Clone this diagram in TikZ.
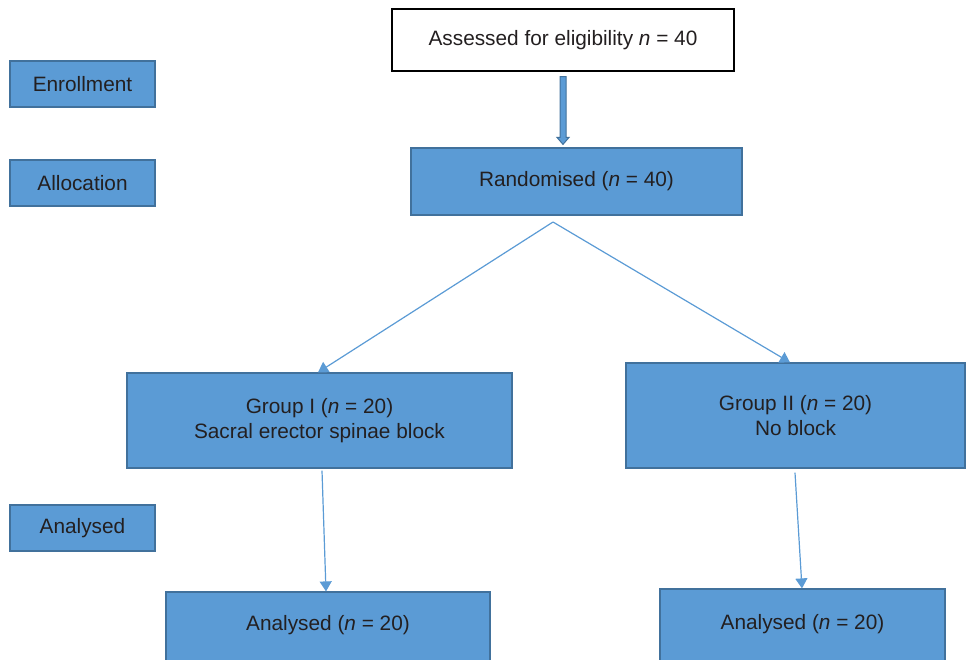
\documentclass[tikz,border=0pt]{standalone}
\usepackage{fontspec}
\setmainfont{Liberation Sans}
\usetikzlibrary{arrows.meta,calc}
\definecolor{boxfill}{HTML}{5B9BD5}
\definecolor{boxedge}{HTML}{41719C}
\definecolor{txt}{HTML}{231F20}
\tikzset{
  box/.style={draw=boxedge, fill=boxfill, line width=0.6pt, text=txt, align=center,
    inner sep=0pt, font=\fontsize{10.4}{12.5}\selectfont},
  whitebox/.style={draw=black, fill=white, line width=0.6pt, text=txt, align=center,
    inner sep=0pt, font=\fontsize{10.4}{12.5}\selectfont},
  conn/.style={draw=boxfill, line width=0.6pt, -{Triangle[width=6pt,length=5pt]}}
}
\begin{document}
\begin{tikzpicture}[x=0.5pt,y=-0.5pt]
\useasboundingbox (0,0) rectangle (966,660);
\clip (0,0) rectangle (966,660);
% stage labels
\node[box, minimum width=72.5pt, minimum height=23pt] (enroll) at (82.5,84) {Enrollment};
\node[box, minimum width=72.5pt, minimum height=23pt] (alloc) at (82.5,183) {Allocation};
\node[box, minimum width=72.5pt, minimum height=23pt] (anal) at (82.5,528) {Analysed};
% flow boxes
\node[whitebox, minimum width=171pt, minimum height=31pt] (assess) at (563,40) {Assessed for eligibility \textit{n} = 40};
\node[box, minimum width=165.5pt, minimum height=33.5pt] (rand) at (576.5,181.5) {Randomised (\textit{n} = 40)};
\node[box, minimum width=192.5pt, minimum height=47.5pt] (g1) at (319.5,420.5) {Group I (\textit{n} = 20)\\Sacral erector spinae block};
\node[box, minimum width=169.5pt, minimum height=52.5pt] (g2) at (795.5,415.5) {Group II (\textit{n} = 20)\\No block};
\node[box, minimum width=162pt, minimum height=36pt] (a1) at (328,628) {};
\node at (328,625) [text=txt, font=\fontsize{10.4}{12.5}\selectfont] (a1t) {Analysed (\textit{n} = 20)};
\node[box, minimum width=142.5pt, minimum height=37.5pt] (a2) at (802.5,626.5) {};
\node at (802.5,624) [text=txt, font=\fontsize{10.4}{12.5}\selectfont] (a2t) {Analysed (\textit{n} = 20)};
% block arrow
\coordinate (bt) at ([yshift=-2.5pt]assess.south);
\coordinate (bb) at ([yshift=1.5pt]assess.south |- rand.north);
\filldraw[fill=boxfill, draw=boxedge, line width=0.5pt]
  ($(bt)+(-3,0)$) -- ($(bb)+(-3,-7)$) -- ($(bb)+(-6,-7)$) -- (bb) -- ($(bb)+(6,-7)$)
  -- ($(bb)+(3,-7)$) -- ($(bt)+(3,0)$) -- cycle;
% split
\coordinate (split) at (553,222);
\draw[conn] (split) -- ([xshift=-0.75pt]g1.north);
\draw[conn] (split) -- ([xshift=-2.75pt]g2.north);
\draw[conn] ([xshift=1.25pt,yshift=-1pt]g1.south) -- ([xshift=-1pt]a1.north);
\draw[conn] ([xshift=-0.25pt,yshift=-2pt]g2.south) -- ([xshift=-0.25pt]a2.north);
\end{tikzpicture}
\end{document}
